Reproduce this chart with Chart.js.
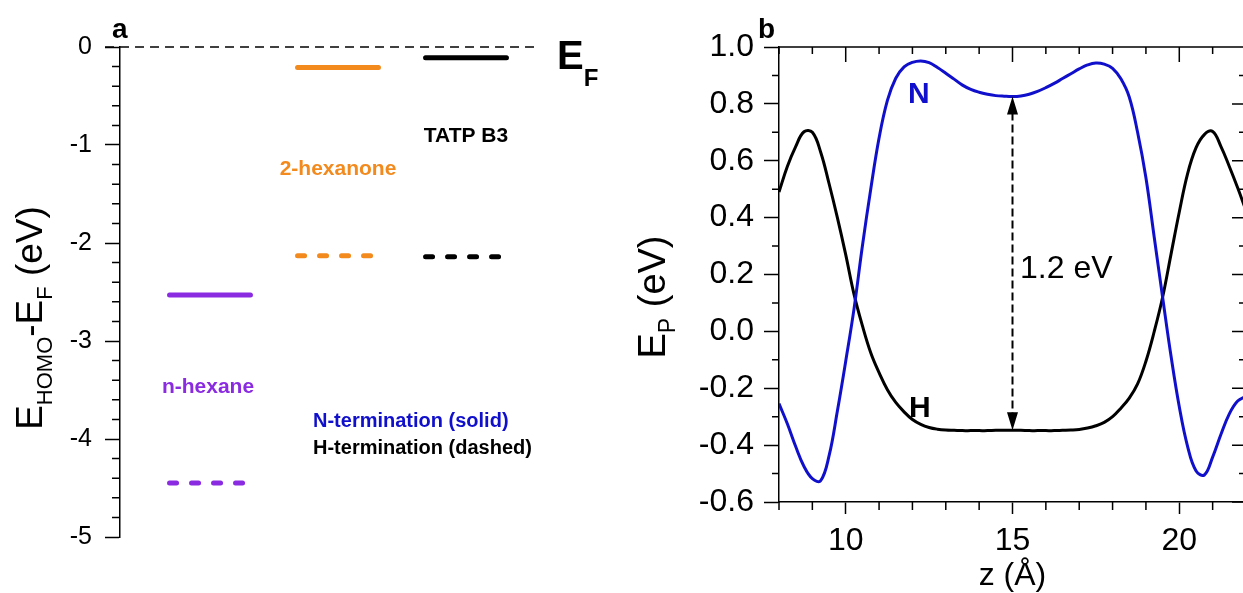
<!DOCTYPE html>
<html>
<head>
<meta charset="utf-8">
<script src="https://cdn.jsdelivr.net/npm/chart.js@4/dist/chart.umd.min.js"></script>
<style>
  html, body { margin: 0; padding: 0; background: #fff; }
  body { width: 1243px; height: 593px; overflow: hidden; position: relative; }
  #levels  { position: absolute; left: 0; top: 0; }
  #profile { position: absolute; left: 615px; top: 0; }
</style>
</head>
<body>
<canvas id="levels" width="620" height="593"></canvas>
<canvas id="profile" width="640" height="593"></canvas>
<script>
// ---- panel a: HOMO levels relative to E_F (eV)
const molecules = ['n-hexane', '2-hexanone', 'TATP B3'];
const homoN = [-2.53, -0.21, -0.11];   // N-termination, solid
const homoH = [-4.45, -2.13, -2.14];   // H-termination, dashed
const levelTicks = [0, -1, -2, -3, -4, -5];

// ---- panel b: potential profile E_P (eV) along z (Å)
const zVals = [8.00, 8.25, 8.50, 8.75, 9.00, 9.25, 9.50, 9.75, 10.00, 10.25, 10.50, 10.75,
  11.00, 11.25, 11.50, 11.75, 12.00, 12.25, 12.50, 12.75, 13.00, 13.25, 13.50, 13.75,
  14.00, 14.25, 14.50, 14.75, 15.00, 15.25, 15.50, 15.75, 16.00, 16.25, 16.50, 16.75,
  17.00, 17.25, 17.50, 17.75, 18.00, 18.25, 18.50, 18.75, 19.00, 19.25, 19.50, 19.75,
  20.00, 20.25, 20.50, 20.75, 21.00, 21.25, 21.50, 21.75, 22.00];
const epN = [-0.254, -0.325, -0.405, -0.475, -0.518, -0.525, -0.438, -0.280, -0.105, 0.080, 0.300, 0.500,
  0.680, 0.812, 0.890, 0.930, 0.946, 0.951, 0.945, 0.928, 0.908, 0.887, 0.866, 0.851,
  0.841, 0.834, 0.829, 0.827, 0.826, 0.828, 0.834, 0.844, 0.857, 0.872, 0.889, 0.906,
  0.923, 0.937, 0.944, 0.940, 0.925, 0.888, 0.824, 0.700, 0.540, 0.330, 0.120, -0.085,
  -0.265, -0.405, -0.490, -0.505, -0.442, -0.362, -0.290, -0.245, -0.228];
const epH = [0.490, 0.580, 0.650, 0.702, 0.700, 0.630, 0.520, 0.400, 0.270, 0.130, 0.020, -0.075,
  -0.145, -0.205, -0.250, -0.283, -0.310, -0.327, -0.338, -0.344, -0.347, -0.348, -0.349, -0.349,
  -0.349, -0.349, -0.348, -0.348, -0.348, -0.348, -0.349, -0.349, -0.349, -0.349, -0.348, -0.347,
  -0.345, -0.340, -0.332, -0.320, -0.300, -0.270, -0.235, -0.185, -0.105, 0.000, 0.120, 0.270,
  0.420, 0.555, 0.645, 0.692, 0.703, 0.650, 0.580, 0.505, 0.425];
const zTicks = [10, 15, 20];
const epTicks = [-0.6, -0.4, -0.2, 0.0, 0.2, 0.4, 0.6, 0.8, 1.0];
const gapZ = 15;          // where the 1.2 eV gap arrow sits

const FONT = "'Liberation Sans', Arial, sans-serif";
const PURPLE = '#8a2be2', ORANGE = '#f28a1e', BLUE = '#1010cc';
const molColors = [PURPLE, ORANGE, '#000'];

// draws a run of text pieces [text, font, baseline shift], optionally rotated
function rich(ctx, parts, x, y, angle, center, color) {
  ctx.save();
  ctx.translate(x, y);
  ctx.rotate(angle || 0);
  ctx.fillStyle = color || '#000';
  ctx.textAlign = 'left';
  ctx.textBaseline = 'alphabetic';
  let w = 0;
  parts.forEach(p => { ctx.font = p[1]; w += ctx.measureText(p[0]).width; });
  let cx = center ? -w / 2 : 0;
  parts.forEach(p => { ctx.font = p[1]; ctx.fillText(p[0], cx, p[2] || 0); cx += ctx.measureText(p[0]).width; });
  ctx.restore();
}

// ---------- panel a
const HALF = 0.316;
const levelSets = [];
molecules.forEach((m, i) => {
  const base = { borderColor: molColors[i], borderWidth: 5, borderCapStyle: 'round', pointRadius: 0 };
  levelSets.push({ ...base, data: [{ x: i - HALF, y: homoN[i] }, { x: i + HALF, y: homoN[i] }] });
  levelSets.push({ ...base, borderDash: [7, 15], data: [{ x: i - HALF, y: homoH[i] }, { x: i + HALF, y: homoH[i] }] });
});
// Fermi level reference line
levelSets.push({ borderColor: '#000', borderWidth: 1.5, borderDash: [9, 6], pointRadius: 0, clip: false,
  data: [{ x: -0.82, y: 0 }, { x: 2.578, y: 0 }] });

const levelDeco = {
  id: 'levelDeco',
  afterDraw(chart) {
    const { ctx, chartArea: a, scales: { y } } = chart;
    ctx.save();
    ctx.strokeStyle = '#000';
    ctx.lineWidth = 1.5;
    ctx.beginPath();
    for (let k = 1; k < 25; k++) {
      if (k % 5 === 0) continue;
      const py = y.getPixelForValue(-k / 5);
      ctx.moveTo(a.left - 8, py); ctx.lineTo(a.left, py);
    }
    ctx.stroke();
    ctx.restore();

    rich(ctx, [['a', `bold 28px ${FONT}`]], 112, 38);
    rich(ctx, [['E', `bold 40px ${FONT}`], ['F', `bold 24px ${FONT}`, 17]], 557, 69);
    rich(ctx, [['n-hexane', `bold 21px ${FONT}`]], 208, 393, 0, true, PURPLE);
    rich(ctx, [['2-hexanone', `bold 21px ${FONT}`]], 338, 175, 0, true, ORANGE);
    rich(ctx, [['TATP B3', `bold 21px ${FONT}`]], 466, 142, 0, true, '#000');
    rich(ctx, [['N-termination (solid)', `bold 20px ${FONT}`]], 313, 427, 0, false, BLUE);
    rich(ctx, [['H-termination (dashed)', `bold 20px ${FONT}`]], 313, 454, 0, false, '#000');
    rich(ctx, [
      ['E', `37px ${FONT}`], ['HOMO', `22px ${FONT}`, 10],
      ['-E', `37px ${FONT}`], ['F', `22px ${FONT}`, 10], [' (eV)', `37px ${FONT}`]
    ], 42, 318, -Math.PI / 2, true);
  }
};

new Chart(document.getElementById('levels'), {
  type: 'line',
  data: { datasets: levelSets },
  options: {
    responsive: false, animation: false, events: [],
    layout: { padding: { top: 47, bottom: 56, left: 0, right: 0 } },
    plugins: { legend: { display: false }, tooltip: { enabled: false } },
    scales: {
      x: { type: 'linear', min: -0.703, max: 3.203, display: false },
      y: {
        min: -5, max: 0,
        afterBuildTicks: s => { s.ticks = levelTicks.map(v => ({ value: v })); },
        afterFit: s => { s.width = 120; },
        grid: { drawOnChartArea: false, tickLength: 15, tickWidth: 1.5, tickColor: '#000' },
        border: { color: '#000', width: 1.5 },
        ticks: { color: '#000', padding: 13, font: { family: FONT, size: 25 }, callback: v => String(v) }
      }
    }
  },
  plugins: [levelDeco]
});

// ---------- panel b
const OFF = 615;   // canvas left edge on the page
const profileDeco = {
  id: 'profileDeco',
  afterDraw(chart) {
    const { ctx, chartArea: a, scales: { x, y } } = chart;
    ctx.save();
    ctx.strokeStyle = '#000';
    ctx.lineWidth = 1.5;
    ctx.beginPath();
    ctx.moveTo(a.left, a.top); ctx.lineTo(a.right, a.top); ctx.lineTo(a.right, a.bottom);
    for (let z = 8; z <= 22; z++) {
      const px = x.getPixelForValue(z);
      const major = zTicks.includes(z);
      ctx.moveTo(px, a.top); ctx.lineTo(px, a.top + (major ? 15 : 7));
      if (!major) { ctx.moveTo(px, a.bottom); ctx.lineTo(px, a.bottom + 8); }
    }
    for (let k = -6; k <= 10; k++) {
      const py = y.getPixelForValue(k / 10);
      const major = k % 2 === 0;
      ctx.moveTo(a.right, py); ctx.lineTo(a.right - (major ? 14 : 7), py);
      if (!major) { ctx.moveTo(a.left - 7, py); ctx.lineTo(a.left, py); }
    }
    ctx.stroke();

    // gap arrow between the two curves at z = gapZ
    const gi = zVals.indexOf(gapZ);
    const ax = x.getPixelForValue(gapZ);
    const yTop = y.getPixelForValue(epN[gi]);
    const yBot = y.getPixelForValue(epH[gi]);
    ctx.lineWidth = 2;
    ctx.setLineDash([8, 4]);
    ctx.beginPath();
    ctx.moveTo(ax, yTop + 16); ctx.lineTo(ax, yBot - 16);
    ctx.stroke();
    ctx.setLineDash([]);
    ctx.fillStyle = '#000';
    ctx.beginPath();
    ctx.moveTo(ax, yTop); ctx.lineTo(ax - 5.5, yTop + 18); ctx.lineTo(ax + 5.5, yTop + 18); ctx.closePath();
    ctx.moveTo(ax, yBot); ctx.lineTo(ax - 5.5, yBot - 18); ctx.lineTo(ax + 5.5, yBot - 18); ctx.closePath();
    ctx.fill();
    ctx.restore();

    rich(ctx, [['b', `bold 28px ${FONT}`]], 758 - OFF, 38);
    rich(ctx, [['N', `bold 30px ${FONT}`]], 908 - OFF, 103, 0, false, BLUE);
    rich(ctx, [['H', `bold 30px ${FONT}`]], 909 - OFF, 417);
    rich(ctx, [['1.2 eV', `32px ${FONT}`]], 1020 - OFF, 278);
    rich(ctx, [['z (Å)', `32px ${FONT}`]], (a.left + a.right) / 2, 585, 0, true);
    rich(ctx, [['E', `38px ${FONT}`], ['P', `23px ${FONT}`, 10], [' (eV)', `38px ${FONT}`]],
      665 - OFF, 297, -Math.PI / 2, true);
  }
};

new Chart(document.getElementById('profile'), {
  type: 'line',
  data: {
    datasets: [
      { label: 'N', data: zVals.map((z, i) => ({ x: z, y: epN[i] })), borderColor: BLUE,
        borderWidth: 3, pointRadius: 0, tension: 0.4 },
      { label: 'H', data: zVals.map((z, i) => ({ x: z, y: epH[i] })), borderColor: '#000',
        borderWidth: 3, pointRadius: 0, tension: 0.4 }
    ]
  },
  options: {
    responsive: false, animation: false, events: [],
    layout: { padding: { top: 47, right: 9, left: 0, bottom: 0 } },
    plugins: { legend: { display: false }, tooltip: { enabled: false } },
    scales: {
      x: {
        type: 'linear', min: 8, max: 22,
        afterBuildTicks: s => { s.ticks = zTicks.map(v => ({ value: v })); },
        afterFit: s => { s.height = 91; },
        grid: { drawOnChartArea: false, tickLength: 12, tickWidth: 1.5, tickColor: '#000' },
        border: { color: '#000', width: 1.5 },
        ticks: { color: '#000', padding: 8, maxRotation: 0, font: { family: FONT, size: 32 } }
      },
      y: {
        min: -0.6, max: 1.0,
        afterBuildTicks: s => { s.ticks = epTicks.map(v => ({ value: v })); },
        afterFit: s => { s.width = 164; },
        grid: { drawOnChartArea: false, tickLength: 15, tickWidth: 1.5, tickColor: '#000' },
        border: { color: '#000', width: 1.5 },
        ticks: { color: '#000', padding: 10, font: { family: FONT, size: 32 }, callback: v => v.toFixed(1) }
      }
    }
  },
  plugins: [profileDeco]
});
</script>
</body>
</html>
